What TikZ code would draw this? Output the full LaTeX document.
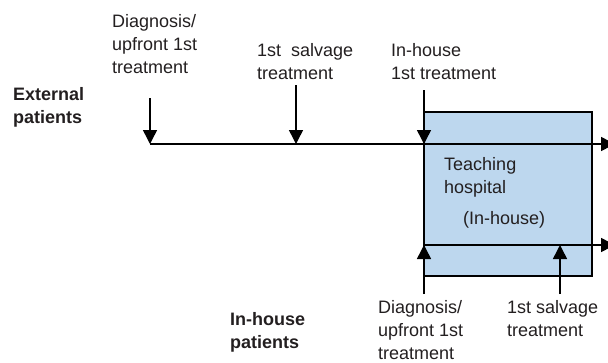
\documentclass[tikz,border=0pt]{standalone}
\usepackage{fontspec}
\setmainfont{Liberation Sans}
\usetikzlibrary{arrows.meta}
\definecolor{boxblue}{RGB}{189,215,238}
\definecolor{ink}{RGB}{35,31,32}
\begin{document}
\begin{tikzpicture}[x=1pt,y=-1pt,
  lbl/.style={anchor=north west,inner sep=0pt,align=left,font=\fontsize{18}{23}\selectfont,text=ink},
  blbl/.style={lbl,font=\fontsize{18}{23}\selectfont\bfseries},
  flow/.style={line width=1.5pt,draw=black,-{Triangle[length=14pt,width=14pt]}},
  hospbox/.style={draw=black,line width=2.5pt,fill=boxblue,minimum width=168pt,minimum height=164pt,inner sep=0pt}
  ]
\useasboundingbox (0,0) rectangle (608,362);
\clip (0,0) rectangle (608,362);
% hospital box
\node[hospbox] (hosp) at (508,194) {};
% labels
\node[lbl] (l1) at (112,14) {Diagnosis/\\upfront 1st\\treatment};
\node[lbl] (l2) at (257,43) {1st\ \ salvage\\treatment};
\node[lbl] (l3) at (391,43) {In-house\\1st treatment};
\node[blbl] (ext) at (13,87) {External\\patients};
\node[lbl] (teach) at (444,157) {Teaching\\hospital};
\node[lbl] (inh) at (463,211) {(In-house)};
\node[lbl] (l4) at (378,300) {Diagnosis/\\upfront 1st\\treatment};
\node[lbl] (l5) at (507,300) {1st salvage\\treatment};
\node[blbl] (inp) at (230,312) {In-house\\patients};
% coordinates
\coordinate (extA) at (150,144);
\coordinate (extE) at (615,144);
\coordinate (inA) at (424,245);
\coordinate (inE) at (615,245);
\coordinate (d1s) at (150,98);
\coordinate (d2s) at (296,85);
\coordinate (d3s) at (424,90);
\coordinate (d2e) at (296,144);
\coordinate (d3e) at (424,144);
\coordinate (u1s) at (424,294);
\coordinate (u2s) at (560,294);
\coordinate (u2e) at (560,245);
% timelines
\draw[flow] (extA) -- (extE);
\draw[flow] (inA) -- (inE);
% event arrows
\draw[flow] (d1s) -- (extA);
\draw[flow] (d2s) -- (d2e);
\draw[flow] (d3s) -- (d3e);
\draw[flow] (u1s) -- (inA);
\draw[flow] (u2s) -- (u2e);
\end{tikzpicture}
\end{document}
